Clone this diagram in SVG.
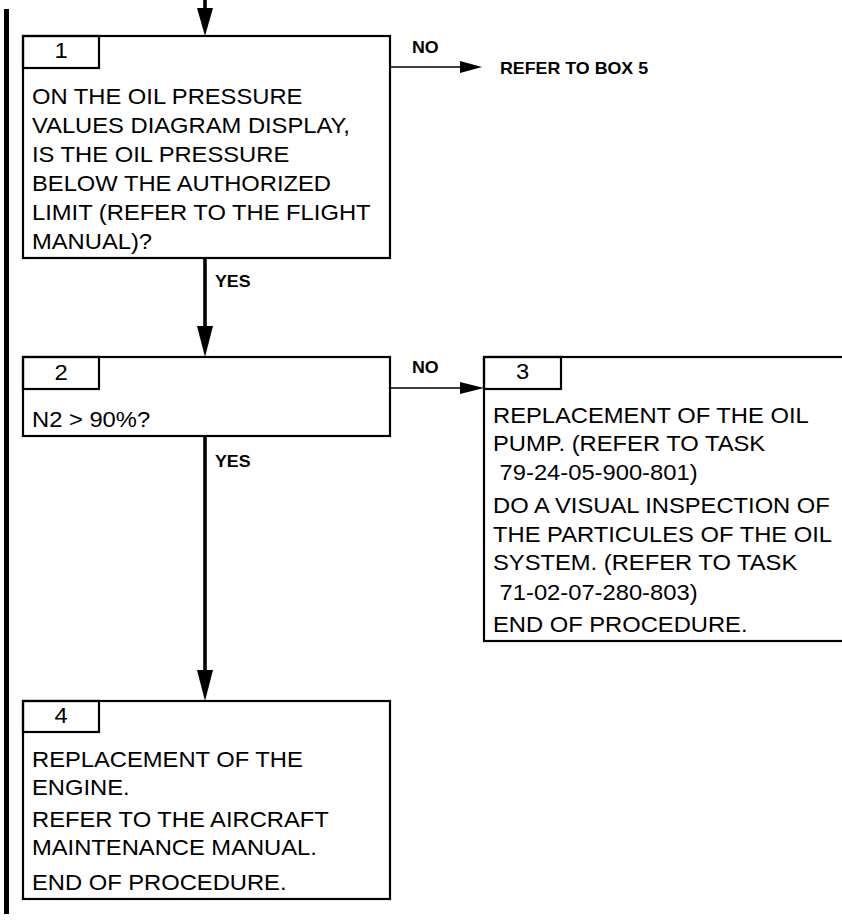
<svg xmlns="http://www.w3.org/2000/svg" width="842" height="922" viewBox="0 0 842 922">
<style>
  .box { fill: #fff; stroke: #000; stroke-width: 2.2; }
  .tab { fill: none; stroke: #000; stroke-width: 2.2; }
  .txt { font-family: "Liberation Sans", Arial, sans-serif; font-size: 22px; fill: #000; }
  .num { font-family: "Liberation Sans", Arial, sans-serif; font-size: 22px; fill: #000; text-anchor: middle; }
  .lbl { font-family: "Liberation Sans", Arial, sans-serif; font-size: 16.5px; font-weight: bold; fill: #000; }
  .vline { stroke: #000; stroke-width: 3.6; fill: none; }
  .hline { stroke: #000; stroke-width: 1.6; fill: none; }
  .head { fill: #000; stroke: none; }
</style>
<rect x="0" y="0" width="842" height="922" fill="#fff"/>

<!-- left margin bar -->
<rect x="4" y="9" width="5" height="905" fill="#000"/>

<g id="connectors">
  <!-- incoming top arrow -->
  <line class="vline" x1="205" y1="0" x2="205" y2="12"/>
  <polygon class="head" points="197,8 213,8 205,36"/>
  <!-- box1 NO -> refer to box 5 -->
  <line class="hline" x1="390" y1="67" x2="462" y2="67"/>
  <polygon class="head" points="460,61 460,73 482,67"/>
  <!-- box1 YES -> box2 -->
  <line class="vline" x1="205" y1="258" x2="205" y2="330"/>
  <polygon class="head" points="197,326 213,326 205,357"/>
  <!-- box2 NO -> box3 -->
  <line class="hline" x1="390" y1="388" x2="462" y2="388"/>
  <polygon class="head" points="460,382 460,394 484,388"/>
  <!-- box2 YES -> box4 -->
  <line class="vline" x1="205" y1="436" x2="205" y2="674"/>
  <polygon class="head" points="197,670 213,670 205,701"/>
  <g class="lbl">
    <text transform="translate(412 53) scale(1.08 1)">NO</text>
    <text transform="translate(500 74) scale(1.08 1)">REFER TO BOX 5</text>
    <text transform="translate(215 287) scale(1.08 1)">YES</text>
    <text transform="translate(412 373) scale(1.08 1)">NO</text>
    <text transform="translate(215 467) scale(1.08 1)">YES</text>
  </g>
</g>

<g id="box1">
  <rect class="box" x="23" y="36" width="367" height="222"/>
  <rect class="tab" x="23" y="36" width="76" height="32"/>
  <text class="num" transform="translate(61 58) scale(1.08 1)">1</text>
  <g transform="translate(32 0) scale(1.08 1)">
    <text class="txt">
      <tspan x="0" y="104">ON THE OIL PRESSURE</tspan>
      <tspan x="0" y="133">VALUES DIAGRAM DISPLAY,</tspan>
      <tspan x="0" y="162">IS THE OIL PRESSURE</tspan>
      <tspan x="0" y="191">BELOW THE AUTHORIZED</tspan>
      <tspan x="0" y="220">LIMIT (REFER TO THE FLIGHT</tspan>
      <tspan x="0" y="249">MANUAL)?</tspan>
    </text>
  </g>
</g>

<g id="box2">
  <rect class="box" x="23" y="357" width="367" height="79"/>
  <rect class="tab" x="23" y="357" width="76" height="32"/>
  <text class="num" transform="translate(61 380) scale(1.08 1)">2</text>
  <text class="txt" transform="translate(32 427) scale(1.08 1)">N2 &gt; 90%?</text>
</g>

<g id="box3">
  <rect class="box" x="484" y="357" width="370" height="284"/>
  <rect class="tab" x="484" y="357" width="77" height="32"/>
  <text class="num" transform="translate(522.5 379) scale(1.08 1)">3</text>
  <g transform="translate(493 0) scale(1.08 1)">
    <text class="txt" xml:space="preserve"><tspan x="0" y="423">REPLACEMENT OF THE OIL</tspan><tspan x="0" y="451">PUMP. (REFER TO TASK</tspan><tspan x="0" y="480"> 79-24-05-900-801)</tspan><tspan x="0" y="513">DO A VISUAL INSPECTION OF</tspan><tspan x="0" y="542">THE PARTICULES OF THE OIL</tspan><tspan x="0" y="570">SYSTEM. (REFER TO TASK</tspan><tspan x="0" y="600"> 71-02-07-280-803)</tspan><tspan x="0" y="632">END OF PROCEDURE.</tspan></text>
  </g>
</g>

<g id="box4">
  <rect class="box" x="23" y="701" width="367" height="198"/>
  <rect class="tab" x="23" y="701" width="76" height="31"/>
  <text class="num" transform="translate(61 723) scale(1.08 1)">4</text>
  <g transform="translate(32 0) scale(1.08 1)">
    <text class="txt">
      <tspan x="0" y="767">REPLACEMENT OF THE</tspan>
      <tspan x="0" y="795">ENGINE.</tspan>
      <tspan x="0" y="827">REFER TO THE AIRCRAFT</tspan>
      <tspan x="0" y="855">MAINTENANCE MANUAL.</tspan>
      <tspan x="0" y="890">END OF PROCEDURE.</tspan>
    </text>
  </g>
</g>
</svg>
